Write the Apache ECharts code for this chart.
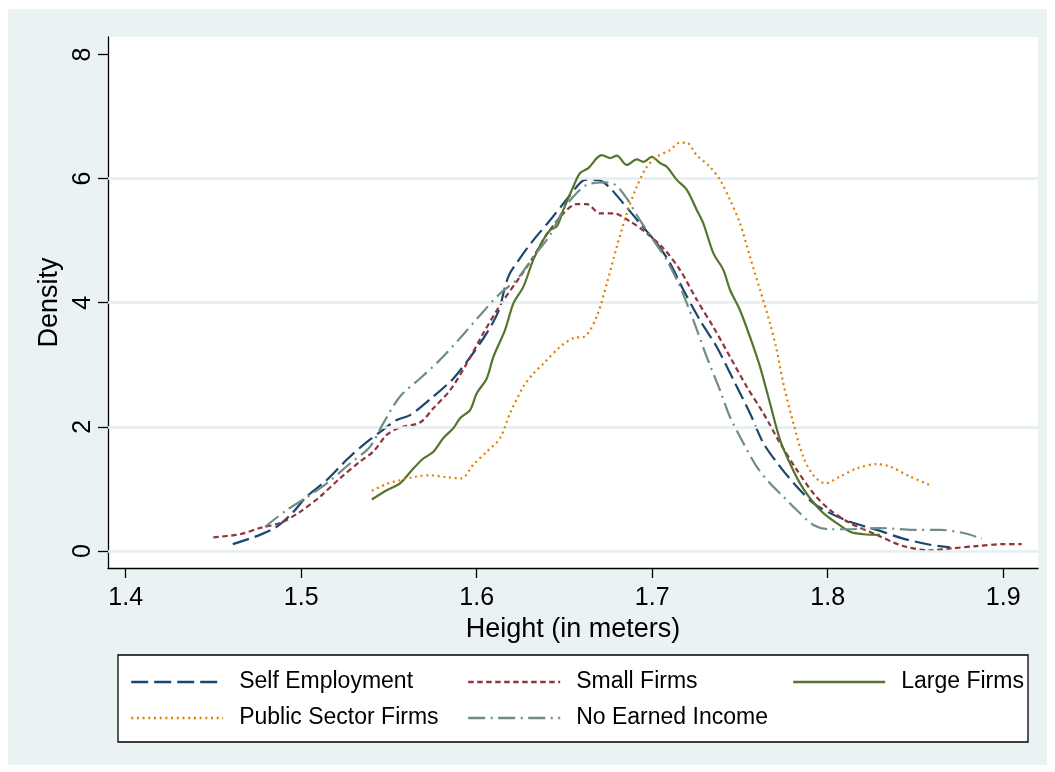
<!DOCTYPE html>
<html>
<head>
<meta charset="utf-8">
<script src="https://cdn.jsdelivr.net/npm/echarts@6/dist/echarts.min.js"></script>
<style>
html,body{margin:0;padding:0;background:#ffffff;}
#bg{position:absolute;left:8px;top:9px;width:1039px;height:756px;background:#eaf2f3;}
#chart{position:absolute;left:0;top:0;width:1055px;height:772px;}
</style>
</head>
<body>
<div id="bg"></div>
<div id="chart"></div>
<script>
// ---- data ----
const xTicks = [1.4, 1.5, 1.6, 1.7, 1.8, 1.9];
const yTicks = [0, 2, 4, 6, 8];
const gridValues = [0, 2, 4, 6];
const seriesNames = ['Self Employment', 'Small Firms', 'Large Firms', 'Public Sector Firms', 'No Earned Income'];

const selfX = [1.461,1.4765,1.486,1.4955,1.503,1.5144,1.5259,1.5354,1.545,1.5544,1.562,1.5753,1.5867,1.598,1.6057,1.6123,1.618,1.6247,1.6323,1.6418,1.6494,1.657,1.6617,1.6684,1.6741,1.6836,1.693,1.7025,1.7101,1.7177,1.7272,1.7367,1.7462,1.7557,1.7633,1.7728,1.7823,1.7918,1.8013,1.8127,1.8279,1.843,1.8583,1.8697];
const selfY = [0.11,0.26,0.39,0.63,0.875,1.14,1.47,1.71,1.92,2.11,2.19,2.49,2.78,3.19,3.51,3.86,4.42,4.72,5.01,5.33,5.6,5.87,5.98,5.98,5.9,5.6,5.28,4.96,4.64,4.21,3.72,3.29,2.76,2.22,1.74,1.36,1.04,0.77,0.61,0.47,0.34,0.2,0.1,0.06];

const smallX = [1.4499,1.4651,1.4765,1.4879,1.4993,1.5107,1.522,1.5334,1.541,1.5487,1.5563,1.5677,1.5753,1.5848,1.5943,1.6038,1.6133,1.6247,1.6323,1.6399,1.6494,1.657,1.6627,1.6703,1.6779,1.6874,1.6969,1.7063,1.7158,1.7253,1.7348,1.7443,1.7538,1.7633,1.7728,1.7823,1.7918,1.8013,1.8127,1.8279,1.843,1.8583,1.8697,1.8849,1.9,1.9105];
const smallY = [0.22,0.27,0.37,0.45,0.63,0.875,1.17,1.44,1.6,1.87,1.99,2.07,2.3,2.59,3.02,3.51,3.96,4.42,4.74,5.1,5.44,5.59,5.59,5.44,5.44,5.31,5.12,4.88,4.53,4.05,3.61,3.13,2.65,2.22,1.74,1.31,0.93,0.66,0.45,0.26,0.08,0.01,0.04,0.08,0.11,0.11];

const largeX = [1.5402,1.5487,1.5563,1.5639,1.5696,1.5753,1.581,1.5867,1.5905,1.5962,1.6,1.6057,1.6095,1.6161,1.6209,1.6266,1.6323,1.638,1.6418,1.6456,1.6494,1.655,1.6589,1.6636,1.6684,1.6712,1.676,1.6798,1.6855,1.6912,1.695,1.6997,1.7045,1.7083,1.714,1.7197,1.7253,1.7291,1.7348,1.7405,1.7443,1.75,1.7557,1.7614,1.7671,1.7728,1.7785,1.7842,1.7899,1.7975,1.8051,1.8127,1.8203,1.8298];
const largeY = [0.83,0.98,1.09,1.33,1.49,1.6,1.82,1.98,2.14,2.27,2.54,2.78,3.13,3.56,3.99,4.26,4.7,5.02,5.17,5.23,5.5,5.87,6.09,6.17,6.33,6.38,6.33,6.37,6.22,6.31,6.27,6.35,6.25,6.19,5.98,5.82,5.5,5.28,4.8,4.53,4.21,3.88,3.45,2.97,2.38,1.79,1.41,1.09,0.85,0.61,0.45,0.31,0.27,0.26];

const publicX = [1.5402,1.5487,1.5563,1.5658,1.5734,1.5829,1.5914,1.598,1.6057,1.6133,1.619,1.6266,1.6323,1.638,1.6475,1.655,1.6617,1.6684,1.6741,1.6798,1.6855,1.6912,1.6969,1.7025,1.7101,1.7158,1.7196,1.7253,1.7329,1.7386,1.7443,1.75,1.7557,1.7614,1.7671,1.7709,1.7747,1.7804,1.786,1.7918,1.7985,1.807,1.8165,1.8279,1.8355,1.8469,1.8583];
const publicY = [0.97,1.08,1.14,1.2,1.22,1.19,1.17,1.39,1.6,1.82,2.22,2.65,2.86,3.02,3.29,3.43,3.46,3.78,4.31,4.9,5.44,5.87,6.19,6.35,6.46,6.58,6.58,6.38,6.19,5.98,5.66,5.28,4.74,4.21,3.67,3.24,2.7,2.06,1.52,1.22,1.09,1.2,1.33,1.4,1.36,1.2,1.06];

const noIncX = [1.4794,1.4917,1.5012,1.5145,1.5278,1.5392,1.5468,1.5563,1.5677,1.5791,1.5905,1.6019,1.6133,1.6227,1.6323,1.6418,1.6494,1.655,1.6627,1.6722,1.6789,1.6855,1.693,1.7006,1.7082,1.7158,1.7234,1.731,1.7386,1.7443,1.7519,1.7595,1.7671,1.7747,1.7823,1.7918,1.8013,1.8108,1.8298,1.8488,1.8641,1.8773,1.8878];
const noIncY = [0.39,0.66,0.83,1.09,1.41,1.68,2.06,2.49,2.78,3.08,3.43,3.8,4.15,4.37,4.74,5.09,5.5,5.71,5.9,5.94,5.9,5.68,5.33,5.01,4.69,4.26,3.72,3.13,2.59,2.16,1.74,1.36,1.09,0.875,0.66,0.42,0.35,0.35,0.37,0.34,0.34,0.29,0.2];

// ---- build ----
const zip = (xs, ys) => xs.map((x, i) => [x, ys[i]]);
const FONT = '"Liberation Sans", Arial, sans-serif';
const colors = ['#1a476f', '#90353b', '#55752f', '#e37e00', '#6e8e84'];
const dashes = [[17, 6], [5.5, 3.5], 'solid', [2, 3.7], [17, 5.5, 2, 5.5]];
const dataSets = [zip(selfX, selfY), zip(smallX, smallY), zip(largeX, largeY), zip(publicX, publicY), zip(noIncX, noIncY)];

const series = [{
  type: 'line', name: '_grid', data: [], z: 1, silent: true,
  markLine: {
    silent: true, symbol: ['none', 'none'], label: { show: false },
    lineStyle: { color: '#e3eef0', width: 2.5, type: 'solid' },
    emphasis: { disabled: true },
    data: gridValues.map(v => ({ yAxis: v }))
  }
}];
seriesNames.forEach((n, i) => {
  series.push({
    type: 'line', name: n, data: dataSets[i], showSymbol: false, symbol: 'none',
    smooth: 0.3, z: 3 + i,
    lineStyle: { color: colors[i], width: 2.2, type: dashes[i] },
    itemStyle: { color: colors[i] },
    emphasis: { disabled: true }
  });
});

const legendPos = [
  { left: 130, top: 669 }, { left: 467, top: 669 }, { left: 792, top: 669 },
  { left: 130, top: 705 }, { left: 467, top: 705 }
];
const legends = seriesNames.map((n, i) => ({
  data: [n], left: legendPos[i].left, top: legendPos[i].top,
  itemWidth: 92, itemHeight: 14, padding: 0, itemGap: 0,
  selectedMode: false,
  itemStyle: { opacity: 0, borderWidth: 0 },
  lineStyle: { width: 2.4 },
  textStyle: { fontSize: 23, fontFamily: FONT, color: '#000', lineHeight: 26, padding: [0, 0, 0, 11] }
}));

const chart = echarts.init(document.getElementById('chart'), null, { renderer: 'canvas' });
chart.setOption({
  backgroundColor: 'transparent',
  animation: false,
  color: colors,
  grid: { left: 108, right: 17, top: 37, bottom: 204, show: true, backgroundColor: '#ffffff', borderWidth: 0 },
  legend: legends,
  graphic: [{
    type: 'rect', z: -1, silent: true,
    shape: { x: 118, y: 655, width: 910, height: 87 },
    style: { fill: '#ffffff', stroke: '#000000', lineWidth: 1.3 }
  }],
  xAxis: {
    type: 'value', min: 1.3899, max: 1.9198,
    name: 'Height (in meters)', nameLocation: 'middle', nameGap: 46,
    nameTextStyle: { fontSize: 27, fontFamily: FONT, color: '#000' },
    axisLine: { show: true, onZero: false, lineStyle: { color: '#000', width: 1.3 } },
    axisTick: { show: true, length: 10, customValues: xTicks, lineStyle: { color: '#000', width: 1.3 } },
    axisLabel: { customValues: xTicks, margin: 18, fontSize: 25, fontFamily: FONT, color: '#000', formatter: v => v.toFixed(1) },
    splitLine: { show: false }
  },
  yAxis: {
    type: 'value', min: -0.274, max: 8.282,
    name: 'Density', nameLocation: 'middle', nameGap: 42, nameRotate: 90,
    nameTextStyle: { fontSize: 27, fontFamily: FONT, color: '#000' },
    axisLine: { show: true, onZero: false, lineStyle: { color: '#000', width: 1.3 } },
    axisTick: { show: true, length: 10, customValues: yTicks, lineStyle: { color: '#000', width: 1.3 } },
    axisLabel: { customValues: yTicks, margin: 12, rotate: 90, fontSize: 25, fontFamily: FONT, color: '#000' },
    splitLine: { show: false }
  },
  series: series
});
</script>
</body>
</html>
